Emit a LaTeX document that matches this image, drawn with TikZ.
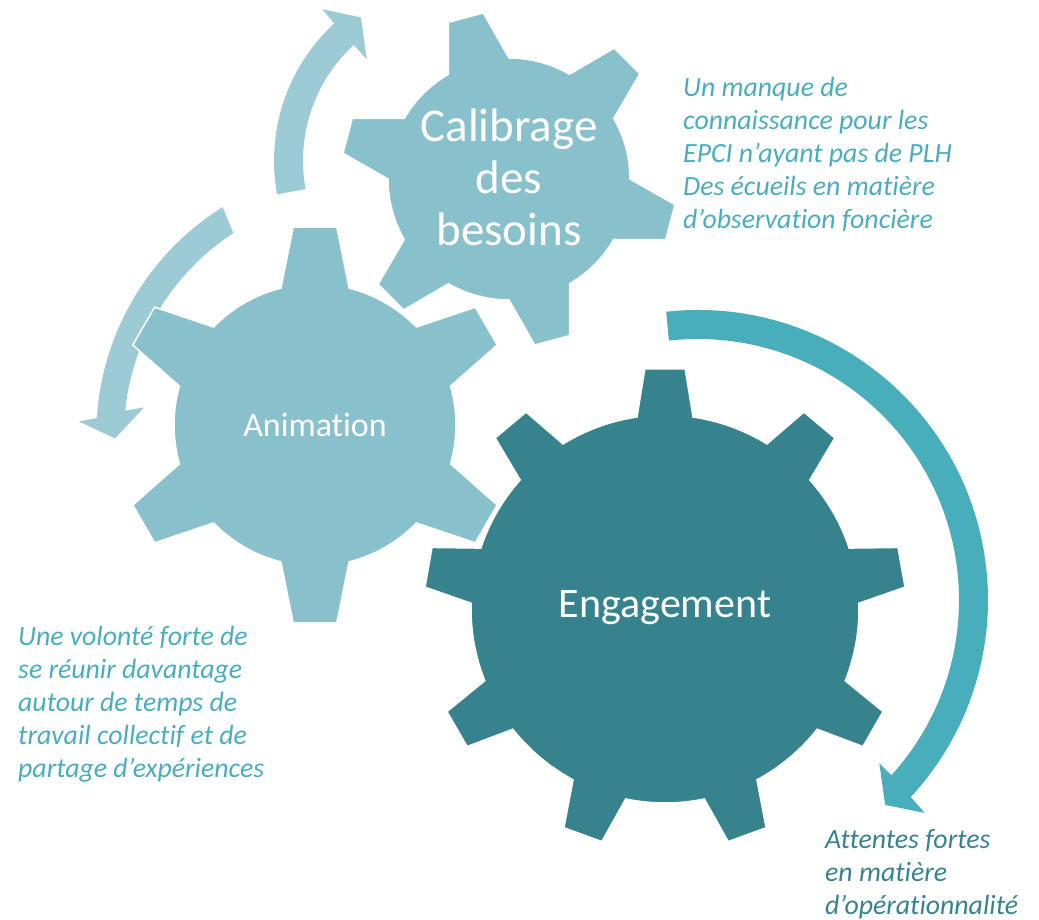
\documentclass[tikz,border=0pt]{standalone}
\usepackage{fontspec}
\setmainfont{Carlito}[Ligatures=NoCommon]
\usetikzlibrary{positioning}
\definecolor{gearlight}{HTML}{88C1CC}
\definecolor{gearstrong}{HTML}{37838D}
\definecolor{arrowlight}{HTML}{9CCBD5}
\definecolor{arrowstrong}{HTML}{49AEBB}
\definecolor{notelight}{HTML}{4AADBE}
\tikzset{
  gearshape/.style={draw=white, line width=1.5pt, line join=miter},
  geartext/.style={text=white, inner sep=0pt},
  note/.style={font=\fontsize{27.8}{33}\selectfont\itshape, align=left, inner sep=0pt, anchor=north west},
}
\begin{document}
\begin{tikzpicture}[x=1pt, y=1pt]
  \useasboundingbox (0,0) rectangle (1039,920);

  % circular arrows
  \begin{scope}[shift={(460,759.5)}]
    \fill[arrowlight] (190.5:186) arc[start angle=190.5, end angle=132.6, radius=186]
      -- (132.3:204.5) -- (124.7:174) -- (132.7:137.6) -- (132.6:157)
      arc[start angle=132.6, end angle=190.5, radius=157] -- cycle;
  \end{scope}
  \begin{scope}[shift={(365,485)}]
    \fill[arrowlight] (122:268.7) arc[start angle=122, end angle=176.4, radius=268.7]
      -- (177.3:286.3) -- (180.8:250) -- (172.9:222.7) -- (174.2:241)
      arc[start angle=174.2, end angle=123.1, radius=241] -- cycle;
  \end{scope}
  \begin{scope}[shift={(698,320)}]
    \fill[arrowstrong] (96.3:290) arc[start angle=96.3, end angle=-42.8, radius=290]
      -- (-43.2:311) -- (-47.6:277.5) -- (-42:244) -- (-42.2:261)
      arc[start angle=-42.2, end angle=96.4, radius=261] -- cycle;
  \end{scope}

  % gear: Calibrage des besoins
  \begin{scope}[shift={(509,741)}]
    \path[gearshape, fill=gearlight] (60:121)
      foreach \t in {105,165,...,405} {
        arc[start angle=\t-45, end angle=\t-15, radius=121]
        -- ({\t-6.2}:168) -- ({\t+6.2}:168) -- ({\t+15}:121)
      } -- cycle;
  \end{scope}

  % gear: Animation
  \begin{scope}[shift={(315,495)}]
    \path[gearshape, fill=gearlight] (44:141)
      foreach \t in {90,150,...,390} {
        arc[start angle=\t-46, end angle=\t-14, radius=141]
        -- ({\t-6.3}:199) -- ({\t+6.3}:199) -- ({\t+14}:141)
      } -- cycle;
  \end{scope}

  % gear: Engagement
  \begin{scope}[shift={(665,311)}]
    \path[gearshape, fill=gearstrong] (58.3:194)
      foreach \t in {90,130,...,410} {
        arc[start angle=\t-31.7, end angle=\t-8.3, radius=194]
        -- ({\t-4.8}:241) -- ({\t+4.8}:241) -- ({\t+8.3}:194)
      } -- cycle;
  \end{scope}

  % gear labels
  \node[geartext, font=\fontsize{47}{52}\selectfont, align=center] (calibrage) at (509,743) {Calibrage\\des\\besoins};
  \node[geartext, font=\fontsize{34}{40}\selectfont, anchor=base] (animation) at (315,483.3) {Animation};
  \node[geartext, font=\fontsize{42}{50}\selectfont, anchor=base] (engagement) at (665,302.5) {Engagement};

  % notes
  \node[note, text=notelight] (manque) at (683,842.7) {Un manque de\\connaissance pour les\\EPCI n’ayant pas de PLH\\Des écueils en matière\\d’observation foncière};
  \node[note, text=notelight] (volonte) at (18,294) {Une volonté forte de\\se réunir davantage\\autour de temps de\\travail collectif et de\\partage d’expériences};
  \node[note, text=gearstrong] (attentes) at (825,90.5) {Attentes fortes\\en matière\\d’opérationnalité};
\end{tikzpicture}
\end{document}
